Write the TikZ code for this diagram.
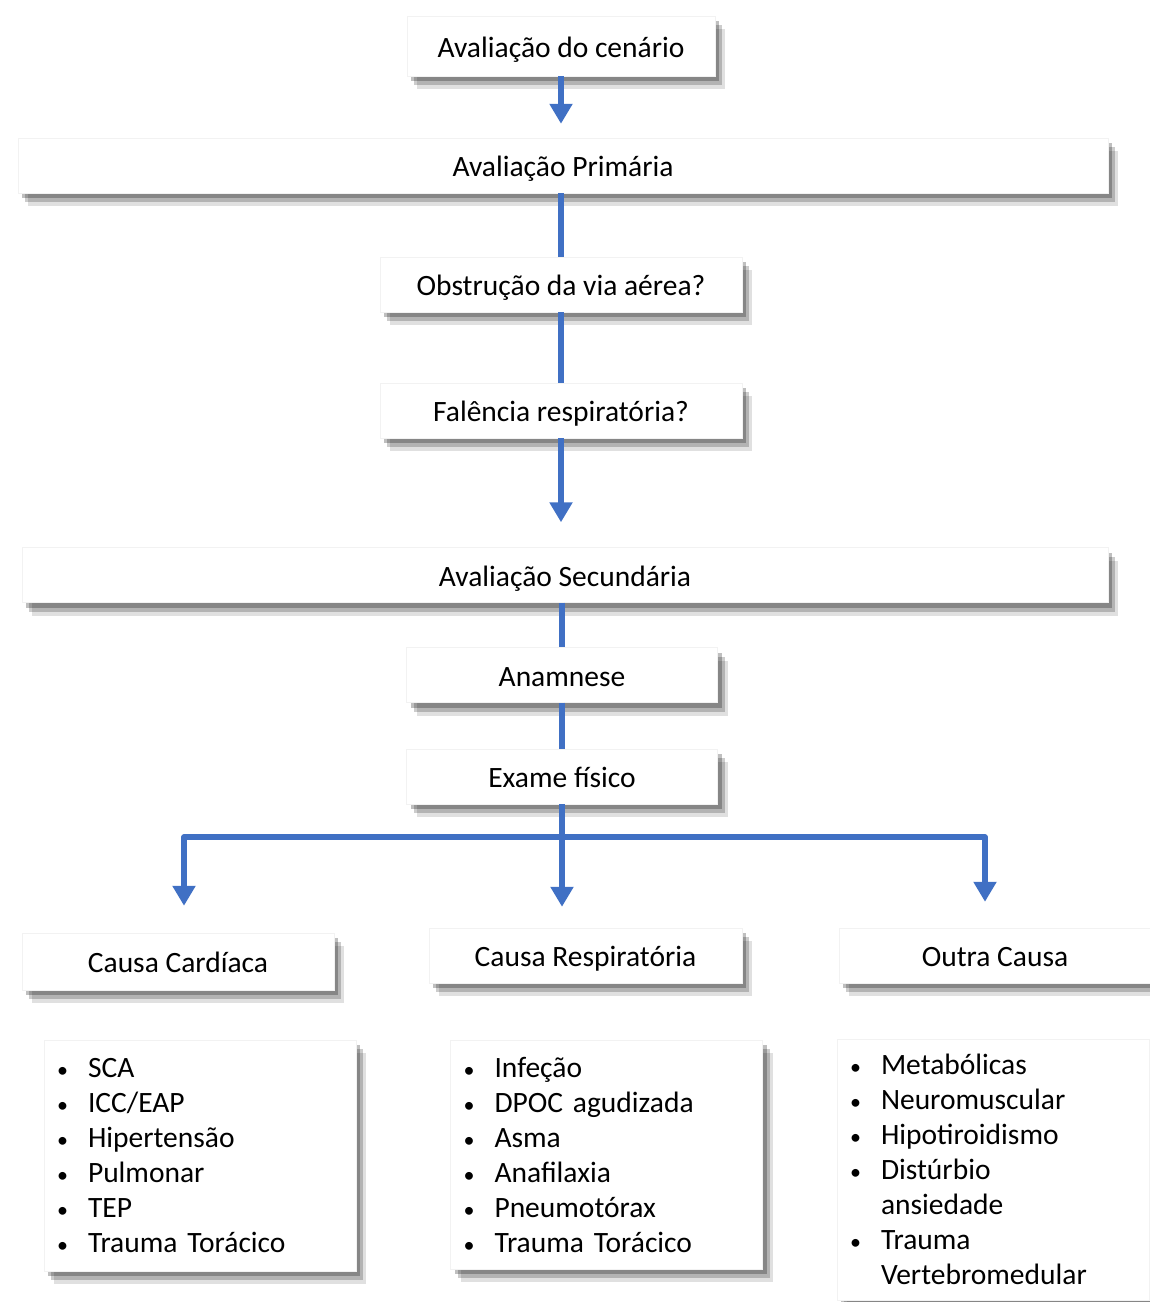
\documentclass[tikz,border=0pt]{standalone}
\usepackage{fontspec}
\setmainfont{Carlito}
\usetikzlibrary{arrows.meta,shadows}
\definecolor{fluxo}{HTML}{4070C4}
\newcommand{\itemlista}[1]{\makebox[31pt][l]{\fontsize{22}{22}\selectfont •}#1}

\begin{document}
\begin{tikzpicture}[
    x=1pt, y=-1pt,
    sombra/.style={drop shadow={shadow xshift=10pt, shadow yshift=-13pt, opacity=.12, fill=black},
                   drop shadow={shadow xshift=7pt, shadow yshift=-9pt, opacity=.2, fill=black},
                   drop shadow={shadow xshift=4pt, shadow yshift=-5pt, opacity=.25, fill=black}},
    etapa/.style={sombra, draw=black!5, fill=white, rectangle, minimum height=55pt, inner sep=0pt, text height=26pt, text depth=4pt, font=\fontsize{29.5}{35}\selectfont},
    lista/.style={sombra, draw=black!5, fill=white, rectangle, align=left, text width=286pt, inner xsep=13pt, inner ysep=0pt, font=\fontsize{29.5}{35}\selectfont},
    arrow/.style={-{Triangle[width=22pt,length=20pt]}, line width=5.5pt, line join=round, draw=fluxo},
    link/.style={line width=5.5pt, draw=fluxo}
]
\useasboundingbox (0,0) rectangle (1150,1302);

% avaliacao inicial
\node[etapa, minimum width=308pt, minimum height=60pt] (cen) at (561,46) {Avaliação do cenário};
\node[etapa, minimum width=1090pt] (prim) at (563,165.5) {Avaliação Primária};
\node[etapa, minimum width=362pt] (obst) at (561,284.5) {Obstrução da via aérea?};
\node[etapa, minimum width=362pt] (fal) at (561,410.5) {Falência respiratória?};

% avaliacao secundaria
\node[etapa, minimum width=1086pt] (sec) at (565,575) {Avaliação Secundária};
\node[etapa, minimum width=311pt] (anam) at (562,675) {Anamnese};
\node[etapa, minimum width=311pt] (exam) at (562,776.5) {Exame físico};

% causas
\node[etapa, minimum width=312pt, minimum height=57pt] (card) at (178,961.5) {Causa Cardíaca};
\node[etapa, minimum width=313pt] (resp) at (585.5,955.5) {Causa Respiratória};
\node[etapa, minimum width=312pt] (outra) at (995,955.5) {Outra Causa};

% listas
\node[lista, minimum height=231pt] (lcard) at (200,1155.5) {\itemlista{SCA}\\ \itemlista{ICC/EAP}\\ \itemlista{Hipertensão}\\ \itemlista{Pulmonar}\\ \itemlista{TEP}\\ \itemlista{Trauma Torácico}};
\node[lista, minimum height=229pt] (lresp) at (606.5,1154.5) {\itemlista{Infeção}\\ \itemlista{DPOC agudizada}\\ \itemlista{Asma}\\ \itemlista{Anafilaxia}\\ \itemlista{Pneumotórax}\\ \itemlista{Trauma Torácico}};
\node[lista, minimum height=261pt] (lout) at (993,1169.5) {\itemlista{Metabólicas}\\ \itemlista{Neuromuscular}\\ \itemlista{Hipotiroidismo}\\ \itemlista{Distúrbio}\\ \hspace*{31pt}ansiedade\\ \itemlista{Trauma}\\ \hspace*{31pt}Vertebromedular};

% ligacoes
\draw[arrow, shorten >=14pt] (cen.south) -- (cen.south |- prim.north);
\draw[link] (obst |- prim.south) -- (obst.north);
\draw[link] (obst.south) -- (fal.north);
\draw[arrow, shorten >=25pt] (fal.south) -- (fal.south |- sec.north);
\draw[link] (anam |- sec.south) -- (anam.north);
\draw[link] (anam.south) -- (exam.north);

\coordinate (split) at (562,837);
\coordinate (jl) at (184,837);
\coordinate (jr) at (985,837);
\draw[link] (exam.south) -- (split);
\draw[arrow, shorten >=27pt] (split) -- (jl) -- (jl |- card.north);
\draw[arrow, shorten >=21pt] (split) -- (split |- resp.north);
\draw[arrow, shorten >=26pt] (split) -- (jr) -- (jr |- outra.north);

\end{tikzpicture}
\end{document}
